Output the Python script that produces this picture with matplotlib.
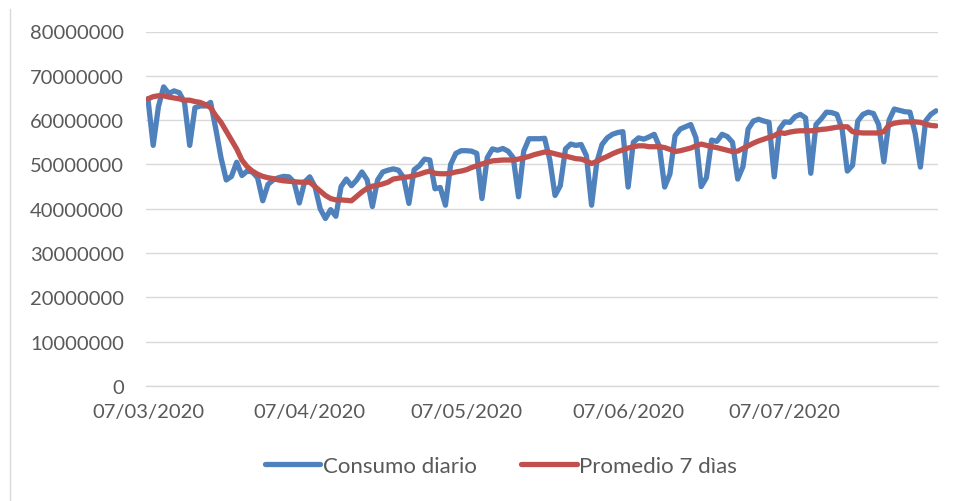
import matplotlib
matplotlib.use("Agg")
import matplotlib.pyplot as plt
from matplotlib.lines import Line2D
import numpy as np
import pandas as pd

plt.rcParams['font.family'] = ['Lato', 'DejaVu Sans']

start_date = "2020-03-07"
consumo_diario = [
    64.8, 54.3, 63.0, 67.5, 66.0, 66.6, 66.2, 64.0,
    54.3, 62.8, 63.2, 63.2, 64.0, 58.0, 51.5,
    46.5, 47.3, 50.5, 47.5, 48.5, 48.3, 47.0,
    41.8, 45.5, 46.5, 47.0, 47.3, 47.2, 46.0,
    41.3, 46.0, 47.2, 45.0, 40.0, 37.8, 39.8,
    38.3, 45.0, 46.7, 45.2, 46.5, 48.3, 46.5,
    40.5, 46.5, 48.3, 48.7, 49.0, 48.7, 47.0,
    41.2, 48.8, 49.7, 51.2, 51.0, 44.5, 44.8,
    40.8, 50.0, 52.5, 53.1, 53.1, 53.0, 52.5,
    42.3, 51.5, 53.5, 53.2, 53.6, 53.0, 51.5,
    42.7, 53.0, 55.8, 55.8, 55.8, 55.9, 51.0,
    43.0, 45.2, 53.5, 54.6, 54.3, 54.5, 52.0,
    40.8, 50.5, 54.5, 56.0, 56.8, 57.2, 57.4,
    44.9, 55.0, 56.0, 55.7, 56.2, 56.8, 54.0,
    44.9, 47.8, 56.5, 58.0, 58.5, 59.0, 56.0,
    45.0, 47.0, 55.5, 55.2, 56.8, 56.3, 55.0,
    46.7, 49.5, 58.0, 59.8, 60.2, 59.8, 59.5,
    47.2, 58.0, 59.6, 59.5, 60.8, 61.3, 60.5,
    48.0, 59.0, 60.3, 61.8, 61.7, 61.3, 58.0,
    48.5, 49.8, 59.8, 61.3, 61.8, 61.5, 59.0,
    50.6, 60.0, 62.5, 62.2, 61.9, 61.8, 57.0,
    49.4, 59.8, 61.3, 62.1,
]
promedio_7_dias = [
    64.8, 65.3, 65.5, 65.5, 65.2, 65.0, 64.8, 64.5,
    64.5, 64.2, 64.0, 63.5, 62.8, 61.0, 59.5,
    57.5, 55.5, 53.5, 51.0, 49.5, 48.5, 47.8,
    47.3, 47.0, 46.8, 46.5, 46.3, 46.2, 46.1,
    46.0, 46.0, 46.0, 45.0, 44.0, 43.0, 42.3,
    42.0, 42.0, 41.9, 41.8, 42.8, 43.8, 44.6,
    45.1, 45.3, 45.6, 46.0, 46.7, 46.9, 47.1,
    47.2, 47.5, 47.8, 48.2, 48.5, 48.0, 47.9,
    47.9, 48.0, 48.3, 48.5, 48.8, 49.3, 49.7,
    50.1, 50.5, 50.8, 50.9, 51.0, 51.0, 51.0,
    51.2, 51.5, 51.8, 52.2, 52.5, 52.8, 52.7,
    52.4, 52.1, 51.9, 51.6, 51.3, 51.2, 50.8,
    50.2, 50.7, 51.3, 51.8, 52.4, 52.9, 53.3,
    53.7, 54.0, 54.2, 54.2, 54.0, 54.0, 54.0,
    53.8, 53.4, 52.9, 53.1, 53.4, 53.7, 54.2,
    54.6, 54.3, 54.0, 53.8, 53.5, 53.2, 52.9,
    53.0, 53.6, 54.2, 54.8, 55.3, 55.7, 56.1,
    56.5, 57.2, 57.0, 57.3, 57.5, 57.6, 57.6,
    57.6, 57.7, 57.9, 58.0, 58.2, 58.4, 58.5,
    58.5, 57.4, 57.2, 57.1, 57.1, 57.1, 57.1,
    57.4, 58.9, 59.3, 59.5, 59.6, 59.6, 59.6,
    59.5, 59.1, 58.8, 58.7,
]
scale = 1_000_000
y_ticks = [0, 10000000, 20000000, 30000000, 40000000, 50000000, 60000000, 70000000, 80000000]
y_tick_labels = [str(v) for v in y_ticks]
x_tick_dates = ["2020-03-07", "2020-04-07", "2020-05-07", "2020-06-07", "2020-07-07"]
x_tick_labels = ["07/03/2020", "07/04/2020", "07/05/2020", "07/06/2020", "07/07/2020"]
series_names = ["Consumo diario", "Promedio 7 dìas"]

dates = pd.date_range(start_date, periods=len(consumo_diario), freq="D")
blue = np.array(consumo_diario) * scale
red = np.array(promedio_7_dias) * scale

BLUE, RED, TXT, GRID = "#4F81BD", "#C0504D", "#595959", "#D9D9D9"

W, H = 956, 502
fig = plt.figure(figsize=(W / 100, H / 100), dpi=100)
ax = fig.add_axes([146 / W, (H - 387) / H, (938 - 146) / W, (387 - 32.5) / H])

ax.plot(dates, blue, color=BLUE, lw=3.8, solid_joinstyle="round", solid_capstyle="round",
        label=series_names[0], zorder=3)
ax.plot(dates, red, color=RED, lw=3.8, solid_joinstyle="round", solid_capstyle="round",
        label=series_names[1], zorder=4)

ax.set_ylim(0, 80000000)
ax.set_yticks(y_ticks)
ax.set_yticklabels(y_tick_labels)
ax.set_xlim(dates[0] - pd.Timedelta(hours=9), dates[-1] + pd.Timedelta(hours=9))
ax.set_xticks(pd.to_datetime(x_tick_dates))
ax.set_xticklabels(x_tick_labels)

ax.grid(axis="y", color=GRID, lw=1.0, zorder=0)
ax.grid(axis="x", visible=False)
for s in ["top", "right", "left"]:
    ax.spines[s].set_visible(False)
ax.spines["bottom"].set_color(GRID)
ax.spines["bottom"].set_linewidth(1.0)
ax.tick_params(axis="both", length=0, labelsize=14.5, colors=TXT)
ax.tick_params(axis="y", pad=16)
ax.tick_params(axis="x", pad=12)

handles = [Line2D([0], [0], color=BLUE, lw=3.8, solid_capstyle="round"),
           Line2D([0], [0], color=RED, lw=3.8, solid_capstyle="round")]
leg = fig.legend(handles, series_names, loc="center",
                 bbox_to_anchor=(501 / W, (H - 467) / H), ncol=2, frameon=False,
                 fontsize=16, handlelength=2.5, handletextpad=0.12, columnspacing=2.0)
for t in leg.get_texts():
    t.set_color(TXT)

fig.add_artist(Line2D([10 / W, 10 / W], [0, (H - 10) / H], transform=fig.transFigure,
                      color=GRID, lw=1.0))

fig.savefig("out.png", dpi=100)
